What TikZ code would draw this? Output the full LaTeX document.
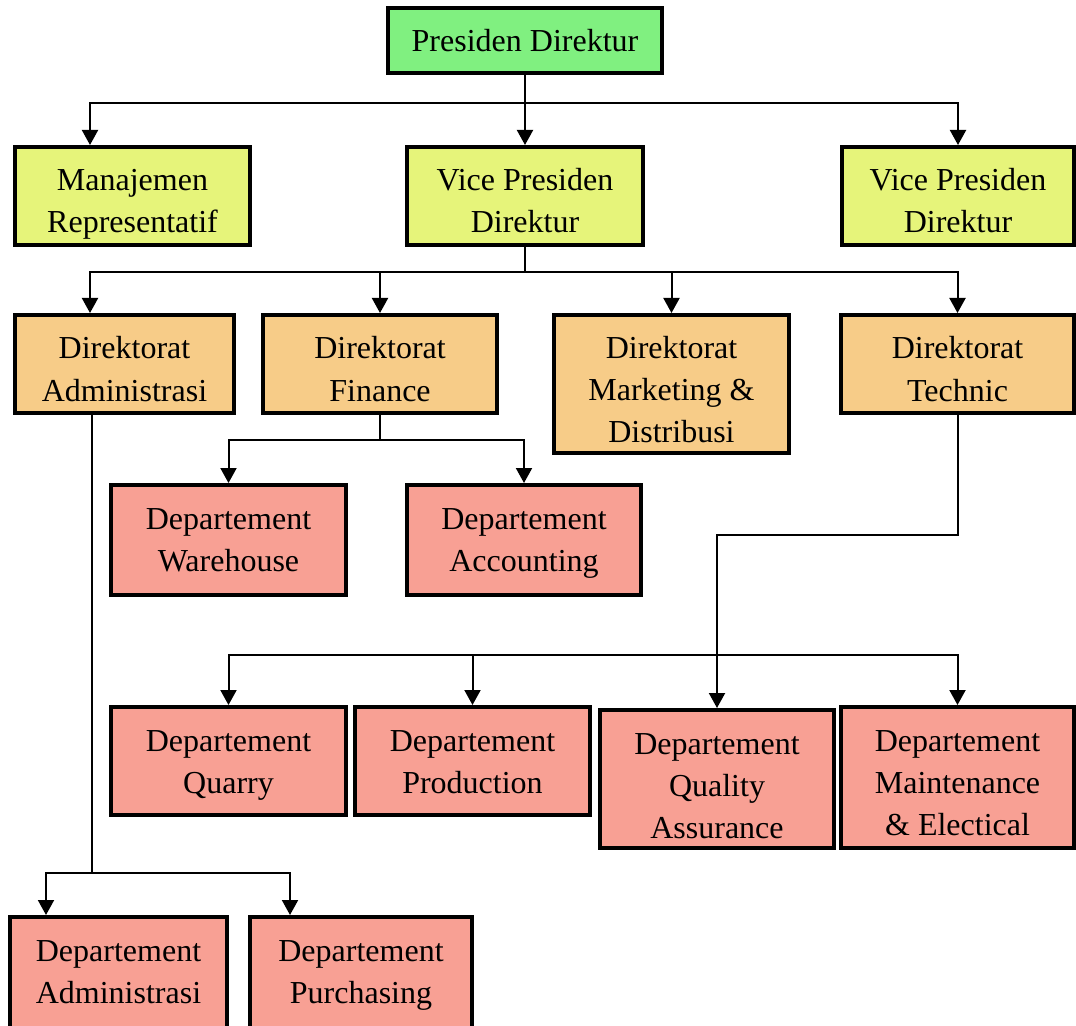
\documentclass[tikz,border=0pt]{standalone}
\usepackage{fontspec}
\setmainfont{Liberation Serif}
\usetikzlibrary{arrows.meta}

\definecolor{headgreen}{RGB}{128,240,128}
\definecolor{vicelime}{RGB}{230,244,122}
\definecolor{dirorange}{RGB}{247,204,136}
\definecolor{deptpink}{RGB}{248,160,148}

\tikzset{
  unit/.style={draw=black, line width=2pt, align=center, inner sep=0pt,
    text height=43pt, text depth=#1,
    font=\fontsize{16}{21}\selectfont},
  unit/.default=6pt,
  oneline/.style={text height=22pt},
  threeline/.style={text height=64pt},
  link/.style={line width=1pt},
  arr/.style={link, -{Triangle[width=8pt,length=7.5pt]}},
}

\begin{document}
\begin{tikzpicture}[x=0.5pt,y=-0.5pt]
\useasboundingbox (0,0) rectangle (1076,1026);

% top
\node[unit=10.5pt, oneline, fill=headgreen, minimum width=137pt] (pd) at (525,40.5) {Presiden Direktur};

% second level
\node[unit, fill=vicelime, minimum width=117.5pt] (mr) at (132.5,196) {Manajemen\\Representatif};
\node[unit, fill=vicelime, minimum width=118pt] (vp) at (525,196) {Vice Presiden\\Direktur};
\node[unit, fill=vicelime, minimum width=116pt] (vr) at (958,196) {Vice Presiden\\Direktur};

% directorates
\node[unit, fill=dirorange, minimum width=109.5pt] (da) at (124.5,364) {Direktorat\\Administrasi};
\node[unit, fill=dirorange, minimum width=117pt] (df) at (380,364) {Direktorat\\Finance};
\node[unit=5pt, threeline, fill=dirorange, minimum width=117.5pt] (dm) at (671.5,384) {Direktorat\\Marketing \&\\Distribusi};
\node[unit, fill=dirorange, minimum width=116.5pt] (dt) at (957.5,364) {Direktorat\\Technic};

% departments
\node[unit=12pt, fill=deptpink, minimum width=117.5pt] (wh) at (228.5,540) {Departement\\Warehouse};
\node[unit=12pt, fill=deptpink, minimum width=117pt] (ac) at (524,540) {Departement\\Accounting};

\node[unit=11pt, fill=deptpink, minimum width=117.5pt] (qu) at (228.5,761) {Departement\\Quarry};
\node[unit=11pt, fill=deptpink, minimum width=117.5pt] (pr) at (472.5,761) {Departement\\Production};
\node[unit=5pt, threeline, fill=deptpink, minimum width=117pt] (qa) at (717,779) {Departement\\Quality\\Assurance};
\node[unit=6.5pt, threeline, fill=deptpink, minimum width=116.5pt] (mt) at (957.5,777.5) {Departement\\Maintenance\\\& Electical};

\node[unit=16.5pt, fill=deptpink, minimum width=108.5pt] (ad) at (118.5,976.5) {Departement\\Administrasi};
\node[unit=16.5pt, fill=deptpink, minimum width=111pt] (pu) at (361,976.5) {Departement\\Purchasing};

% connectors
\coordinate (b1) at (525,103);
\draw[link] (pd.south) -- (b1);
\draw[arr] (b1) -| ([xshift=38.5pt]mr.north west);
\draw[arr] (b1) -- (vp.north);
\draw[arr] (b1) -| (vr.north);

\coordinate (b2) at (525,272);
\draw[link] (vp.south) -- (b2);
\draw[arr] (b2) -| ([xshift=38.5pt]da.north west);
\draw[arr] (b2) -| (df.north);
\draw[arr] (b2) -| (dm.north);
\draw[arr] (b2) -| (dt.north);

\coordinate (b3) at (380,440);
\draw[link] (df.south) -- (b3);
\draw[arr] (b3) -| (wh.north);
\draw[arr] (b3) -| (ac.north);

\coordinate (t1) at (717,535);
\draw[arr] (dt.south) |- (t1) -- (qa.north);

\coordinate (b4) at (717,655);
\draw[arr] (b4) -| (qu.north);
\draw[arr] (b4) -| (pr.north);
\draw[arr] (b4) -| (mt.north);

\coordinate (b5) at (92,873);
\draw[link] (b5 |- da.south) -- (b5);
\draw[arr] (b5) -| ([xshift=19pt]ad.north west);
\draw[arr] (b5) -| ([xshift=21pt]pu.north west);
\end{tikzpicture}
\end{document}
